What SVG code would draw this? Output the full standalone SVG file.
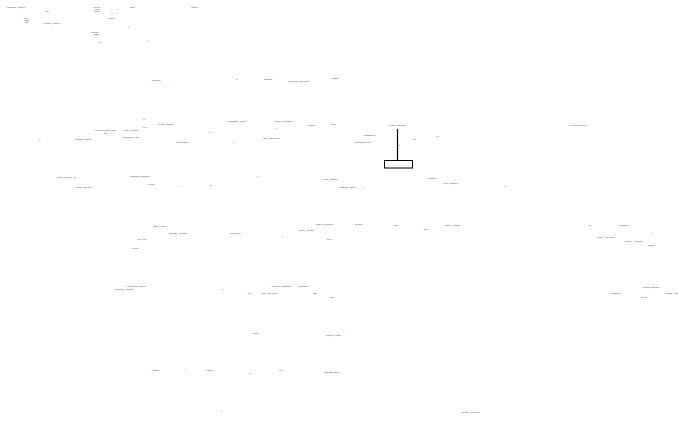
<svg xmlns="http://www.w3.org/2000/svg" width="678" height="421" viewBox="0 0 678 421">
<style>
text{font-family:"Liberation Sans",Arial,sans-serif;font-size:2.5px;fill:#444}
.box{fill:#fff;stroke:#000;stroke-width:1}
.edge{stroke:#000;stroke-width:1.2;fill:none}
</style>
<rect width="678" height="421" fill="#fff"/>
<g id="connectors">
<line class="edge" x1="397.5" y1="129" x2="397.5" y2="160.5"/>
</g>
<g id="node-box">
<rect class="box" x="384.5" y="160.5" width="28" height="7.5"/>
</g>
<g id="labels-top">
<text x="7" y="7.9">schema_version</text>
<text x="45" y="11.9">title</text>
<text x="24" y="18.9">type</text>
<text x="24" y="20.9">node</text>
<text x="25" y="22.9">list</text>
<text x="44" y="23.9">default_config</text>
<text x="94" y="7.9">items</text>
<text x="94" y="9.9">props</text>
<text x="94" y="11.9">value</text>
<text x="111" y="13.9">a</text>
<text x="117" y="9.9">x</text>
<text x="117" y="12.9">y</text>
<text x="108" y="18.9">enum:</text>
<text x="91" y="32.9">format</text>
<text x="93" y="34.9">range</text>
<text x="99" y="42.9">id</text>
<text x="130" y="7.9">label</text>
<text x="191" y="7.9">output</text>
<text x="128" y="27.9">0</text>
<text x="147" y="40.9">1</text>
</g>
<g id="labels-row2">
<text x="152" y="80.9">request</text>
<text x="236" y="79.9">2</text>
<text x="264" y="79.9">handler</text>
<text x="288" y="81.9">response_payload</text>
<text x="332" y="78.9">status</text>
</g>
<g id="labels-row3">
<text x="143" y="119.9">id</text>
<text x="158" y="124.9">event_stream</text>
<text x="143" y="127.9">key</text>
<text x="95" y="130.9">session_user_data</text>
<text x="124" y="130.9">user_record</text>
<text x="104" y="133.9">list</text>
<text x="122" y="137.9">permission_set</text>
<text x="39" y="140.9">3</text>
<text x="75" y="139.9">access_tokens</text>
<text x="176" y="142.9">credentials</text>
<text x="57" y="177.9">auth_provider_id</text>
<text x="130" y="176.9">session_manager</text>
<text x="148" y="184.9">cache</text>
<text x="180" y="186.9">4</text>
<text x="210" y="185.9">5</text>
<text x="257" y="176.9">6</text>
<text x="76" y="187.9">token_storage</text>
<text x="228" y="121.9">message_queue</text>
<text x="274" y="121.9">queue_consumer</text>
<text x="308" y="125.9">worker</text>
<text x="209" y="132.9">5</text>
<text x="276" y="128.9">6</text>
<text x="233" y="142.9">7</text>
<text x="263" y="138.9">task_scheduler</text>
<text x="331" y="124.9">retry</text>
<text x="389" y="125.9">event_dispatch</text>
<text x="364" y="135.9">subscriber</text>
<text x="354" y="142.9">notification_svc</text>
<text x="413" y="139.9">ok</text>
<text x="436" y="136.9">err</text>
<text x="398.5" y="145.9">8</text>
<text x="322" y="179.9">event_listener</text>
<text x="339" y="187.9">callback_queue</text>
<text x="362" y="187.9">9</text>
<text x="428" y="178.9">handler</text>
<text x="443" y="183.9">error_handler</text>
<text x="505" y="186.9">0</text>
<text x="569" y="125.9">external_service</text>
</g>
<g id="labels-row4">
<text x="153" y="226.9">data_source</text>
<text x="169" y="233.9">storage_adapter</text>
<text x="230" y="233.9">repository</text>
<text x="282" y="236.9">1</text>
<text x="299" y="230.9">query_builder</text>
<text x="138" y="239.9">db_pool</text>
<text x="132" y="248.9">driver</text>
<text x="316" y="224.9">index_manager</text>
<text x="355" y="224.9">search</text>
<text x="394" y="225.9">filter</text>
<text x="445" y="225.9">query_results</text>
<text x="424" y="229.9">sort</text>
<text x="327" y="239.9">limit</text>
<text x="589" y="225.9">2</text>
<text x="619" y="225.9">telemetry</text>
<text x="651" y="233.9">x</text>
<text x="597" y="237.9">metric_collector</text>
<text x="625" y="241.9">metric_exporter</text>
<text x="648" y="245.9">gauge</text>
</g>
<g id="labels-row5">
<text x="127" y="286.9">migration_runner</text>
<text x="115" y="289.9">schema_version</text>
<text x="222" y="289.9">3</text>
<text x="272" y="286.9">backup_manager</text>
<text x="298" y="286.9">snapshot</text>
<text x="248" y="293.9">log</text>
<text x="261" y="293.9">audit_log_sink</text>
<text x="313" y="293.9">tag</text>
<text x="329" y="297.9">entry</text>
<text x="643" y="287.9">health_monitor</text>
<text x="610" y="293.9">heartbeat</text>
<text x="665" y="293.9">uptime_chk</text>
<text x="641" y="297.9">alerts</text>
</g>
<g id="labels-bottom">
<text x="252" y="333.9">config</text>
<text x="326" y="335.9">feature_flags</text>
<text x="152" y="370.9">loader</text>
<text x="184" y="370.9">4</text>
<text x="206" y="370.9">parser</text>
<text x="250" y="373.9">5</text>
<text x="279" y="370.9">env</text>
<text x="324" y="372.9">settings_store</text>
<text x="221" y="411.9">6</text>
<text x="462" y="412.9">deploy_pipeline</text>
</g>
</svg>
